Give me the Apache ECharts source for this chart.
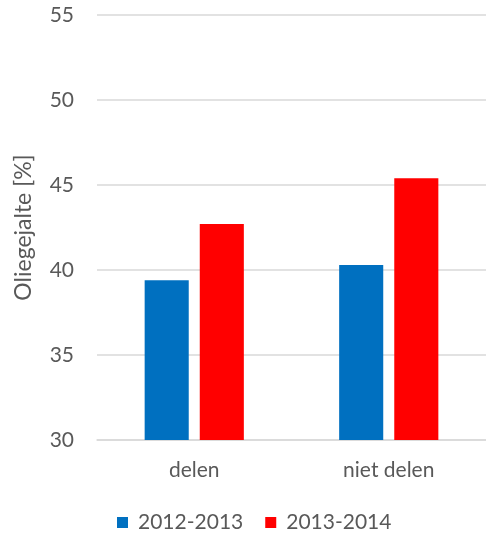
<!DOCTYPE html>
<html>
<head>
<meta charset="utf-8">
<script src="https://cdn.jsdelivr.net/npm/echarts@6/dist/echarts.min.js"></script>
<style>
  html, body { margin: 0; padding: 0; background: #fff; }
  #chart { width: 486px; height: 535px; }
</style>
</head>
<body>
<div id="chart"></div>
<script>
// data
const categories = ['delen', 'niet delen'];
const series2012 = [39.4, 40.3];
const series2013 = [42.7, 45.4];
const seriesNames = ['2012-2013', '2013-2014'];

const chart = echarts.init(document.getElementById('chart'));
const textColor = '#595959';
const font = 'Lato, "Open Sans", sans-serif';

const option = {
  animation: false,
  textStyle: { fontFamily: font },
  legend: {
    data: seriesNames,
    bottom: -3,
    left: 112,
    itemWidth: 11,
    itemHeight: 11,
    itemGap: 22,
    icon: 'rect',
    textStyle: { color: textColor, fontSize: 21, fontFamily: font, padding: [0, 0, 0, 5] }
  },
  grid: {
    left: 97,
    right: 0,
    top: 15,
    bottom: 95
  },
  xAxis: {
    type: 'category',
    data: categories,
    axisLine: { lineStyle: { color: '#d9d9d9', width: 1.5 } },
    axisTick: { show: false },
    axisLabel: { color: textColor, fontSize: 21, margin: 20, fontFamily: font }
  },
  yAxis: {
    type: 'value',
    min: 30,
    max: 55,
    interval: 5,
    name: 'Oliegejalte [%]',
    nameLocation: 'middle',
    nameGap: 62,
    nameTextStyle: { color: textColor, fontSize: 23, fontFamily: font },
    axisLine: { show: false },
    axisTick: { show: false },
    axisLabel: { color: textColor, fontSize: 21, margin: 23, fontFamily: font },
    splitLine: { lineStyle: { color: '#d9d9d9', width: 1.5 } }
  },
  series: [
    {
      name: seriesNames[0],
      type: 'bar',
      data: series2012,
      itemStyle: { color: '#0070C0' },
      barGap: '25%',
      barCategoryGap: '49%'
    },
    {
      name: seriesNames[1],
      type: 'bar',
      data: series2013,
      itemStyle: { color: '#FF0000' }
    }
  ]
};

chart.setOption(option);
</script>
</body>
</html>
